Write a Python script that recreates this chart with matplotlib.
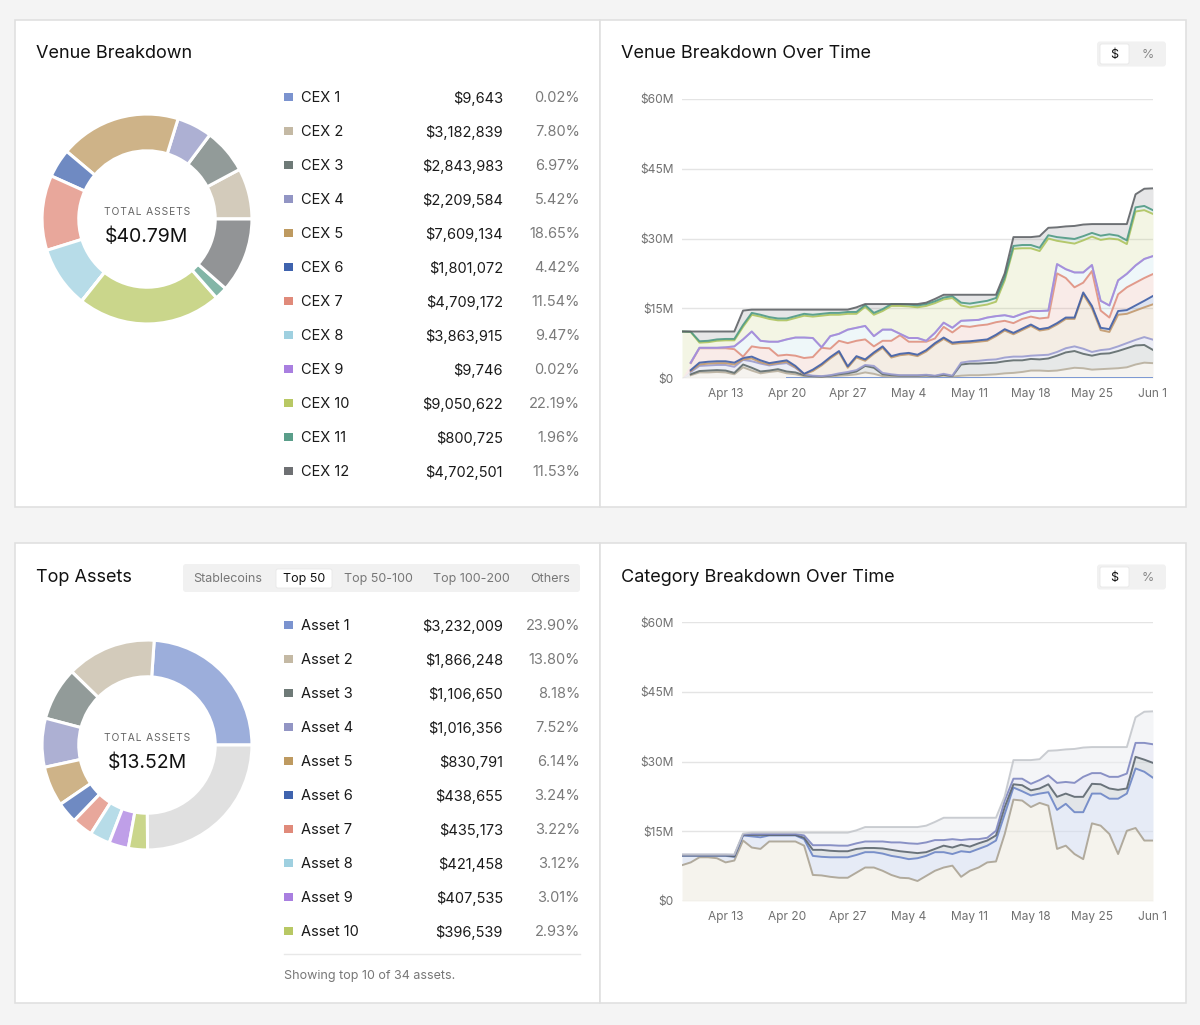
import numpy as np
import matplotlib.pyplot as plt
from matplotlib.patches import Rectangle, FancyBboxPatch
from matplotlib.colors import to_rgb

plt.rcParams['font.family'] = ['Inter', 'DejaVu Sans']

W, H = 1200, 1025

# ---------------- data ----------------
venues = ['CEX 1', 'CEX 2', 'CEX 3', 'CEX 4', 'CEX 5', 'CEX 6',
          'CEX 7', 'CEX 8', 'CEX 9', 'CEX 10', 'CEX 11', 'CEX 12']
venue_values = [9643, 3182839, 2843983, 2209584, 7609134, 1801072,
                4709172, 3863915, 9746, 9050622, 800725, 4702501]
venue_pcts = [0.02, 7.80, 6.97, 5.42, 18.65, 4.42, 11.54, 9.47, 0.02, 22.19, 1.96, 11.53]
venue_total = '$40.79M'

assets = ['Asset 1', 'Asset 2', 'Asset 3', 'Asset 4', 'Asset 5',
          'Asset 6', 'Asset 7', 'Asset 8', 'Asset 9', 'Asset 10']
asset_values = [3232009, 1866248, 1106650, 1016356, 830791,
                438655, 435173, 421458, 407535, 396539]
asset_pcts = [23.90, 13.80, 8.18, 7.52, 6.14, 3.24, 3.22, 3.12, 3.01, 2.93]
asset_total_value = 13.52e6
asset_total = '$13.52M'
asset_count = 34

tabs = ['Stablecoins', 'Top 50', 'Top 50-100', 'Top 100-200', 'Others']

palette = ['#7B93CF', '#C4B9A4', '#6E7A77', '#9295C4', '#BE9A60', '#3F63AE',
           '#E08A7A', '#9FD0E0', '#A97FE0', '#B8C864', '#5A9E8A', '#6E7073']

# daily points, Apr 8 .. Jun 1 (values in $M, stack tops)
days = np.arange(np.datetime64('2025-04-08'), np.datetime64('2025-06-02'))

top_cex1 = [0.0] * 12 + [0.01] * 43
top_cex2 = [0, 0.6, 1.2, 1.2, 1.3, 1.2, 0.8, 2.3, 1.6, 1.0,
            1.3, 1.5, 1.0, 0.8, 0.4, 0.3, 0.2, 0.3, 0.5, 0.6,
            0.8, 1.2, 0.9, 0.4, 0.3, 0.3, 0.3, 0.3, 0.4, 0.3,
            0.5, 0.3, 0.5, 0.6, 0.6, 0.7, 0.8, 1.0, 1.1, 1.3,
            1.6, 1.6, 1.5, 1.6, 1.9, 2.2, 2.1, 1.8, 1.9, 2.0,
            2.1, 2.3, 2.9, 3.3, 3.19]
top_cex3 = [0, 0.8, 1.5, 1.6, 1.7, 1.6, 1.1, 2.9, 2.2, 1.4,
            1.6, 1.9, 1.4, 1.2, 0.6, 0.4, 0.3, 0.5, 0.8, 1.0,
            1.4, 2.6, 2.2, 0.8, 0.6, 0.5, 0.5, 0.5, 0.6, 0.4,
            0.7, 0.4, 2.9, 3.1, 3.1, 3.2, 3.3, 3.6, 3.8, 3.8,
            4.1, 4.0, 4.2, 4.8, 5.5, 5.8, 5.2, 4.8, 5.2, 5.3,
            5.8, 6.4, 7.0, 7.1, 6.03]
top_cex4 = [0, 1.3, 2.6, 2.7, 2.8, 2.8, 2.4, 3.9, 3.6, 3.1,
            2.7, 3.0, 3.2, 2.2, 0.8, 0.5, 0.4, 0.6, 1.0, 1.3,
            1.7, 2.8, 2.6, 1.1, 0.8, 0.6, 0.6, 0.6, 0.7, 0.5,
            0.9, 0.5, 3.3, 3.6, 3.7, 3.9, 4.0, 4.4, 4.6, 4.6,
            4.8, 4.9, 5.0, 5.6, 6.4, 6.8, 6.3, 5.6, 6.0, 6.2,
            6.8, 7.5, 8.2, 8.8, 8.24]
top_cex5 = [0, 1.5, 2.9, 3.1, 3.2, 3.2, 2.9, 4.0, 4.2, 3.4,
            2.9, 3.2, 3.5, 2.3, 0.8, 1.5, 2.7, 4.2, 5.5, 2.2,
            4.4, 3.7, 5.2, 6.5, 4.4, 4.9, 5.1, 4.7, 5.7, 7.2,
            8.4, 7.3, 7.5, 7.6, 7.8, 8.0, 9.0, 10.2, 9.4, 10.3,
            11.2, 10.2, 10.5, 11.5, 12.7, 12.7, 18.0, 15.0, 10.3, 9.9,
            13.6, 13.8, 14.5, 15.2, 15.85]
top_cex6 = [0, 1.7, 3.3, 3.5, 3.6, 3.6, 3.3, 4.3, 4.6, 3.8,
            3.2, 3.5, 3.8, 2.6, 0.9, 1.8, 3.0, 4.5, 5.8, 2.5,
            4.7, 4.0, 5.5, 6.8, 4.7, 5.2, 5.4, 5.0, 6.0, 7.5,
            8.7, 7.6, 7.8, 7.9, 8.1, 8.3, 9.3, 10.5, 9.7, 10.6,
            11.5, 10.5, 10.8, 11.8, 13.0, 13.0, 18.4, 15.5, 10.8, 10.5,
            14.4, 14.6, 15.6, 16.6, 17.65]
top_cex7 = [0, 3.2, 6.4, 6.4, 6.4, 6.4, 6.2, 4.6, 6.8, 6.5,
            6.4, 4.8, 5.0, 4.8, 4.3, 4.5, 6.5, 6.3, 8.0, 7.5,
            8.0, 8.3, 6.8, 8.0, 8.0, 9.2, 7.8, 7.8, 7.8, 8.5,
            11.0, 9.8, 11.2, 11.0, 11.3, 11.5, 12.0, 12.3, 11.8, 12.7,
            13.2, 12.8, 13.0, 22.5, 21.5, 19.5, 20.5, 23.0, 14.5, 13.0,
            18.0, 19.5, 20.5, 21.5, 22.36]
top_cex8 = [0, 3.3, 6.5, 6.5, 6.5, 6.6, 6.8, 8.3, 10.0, 8.0,
            7.8, 7.8, 8.3, 8.7, 8.7, 8.6, 6.6, 9.0, 9.5, 10.4,
            10.8, 11.2, 9.0, 10.4, 10.4, 9.5, 8.6, 8.6, 8.0, 9.7,
            11.9, 10.8, 12.3, 12.4, 12.5, 13.0, 13.3, 13.5, 13.1, 13.8,
            14.4, 14.4, 14.5, 24.5, 23.4, 22.7, 22.7, 24.3, 16.6, 15.6,
            21.0, 22.4, 24.2, 25.6, 26.22]
top_cex9 = top_cex8  # CEX 9 adds only ~$10k
top_cex10 = [10.0, 9.9, 7.6, 7.7, 8.0, 8.1, 8.1, 11.0, 13.6, 13.2,
             12.7, 12.4, 12.4, 12.9, 13.4, 13.2, 13.4, 13.6, 13.6, 13.8,
             13.8, 15.3, 13.6, 14.4, 15.5, 15.5, 15.4, 15.2, 15.5, 16.1,
             16.9, 17.2, 15.6, 15.2, 15.5, 15.8, 16.4, 21.0, 27.8, 27.9,
             27.9, 27.3, 30.0, 29.5, 29.2, 28.9, 29.6, 30.4, 29.7, 30.0,
             29.8, 28.8, 35.8, 36.1, 35.28]
top_cex11 = [10.0, 9.95, 7.9, 8.0, 8.3, 8.4, 8.4, 11.4, 14.0, 13.6,
             13.1, 12.8, 12.8, 13.3, 13.8, 13.6, 13.8, 14.0, 14.0, 14.2,
             14.2, 15.7, 14.0, 14.8, 15.9, 15.9, 15.8, 15.6, 15.9, 16.5,
             17.3, 17.6, 16.2, 16.0, 16.3, 16.6, 17.2, 21.6, 28.4, 28.6,
             28.6, 28.0, 30.7, 30.3, 30.1, 29.9, 30.5, 31.2, 30.6, 30.9,
             30.6, 29.6, 36.7, 37.0, 36.08]
total_assets = [10.0, 10.0, 10.0, 10.0, 10.0, 10.0, 10.0, 14.5, 14.7, 14.7,
                14.7, 14.7, 14.7, 14.7, 14.7, 14.7, 14.7, 14.7, 14.7, 14.7,
                15.2, 15.9, 15.9, 15.9, 15.9, 15.9, 15.9, 15.9, 16.2, 17.0,
                17.9, 17.9, 17.9, 17.9, 17.9, 17.9, 17.9, 22.5, 30.3, 30.3,
                30.3, 30.5, 32.3, 32.4, 32.6, 32.7, 33.0, 33.1, 33.1, 33.1,
                33.1, 33.1, 39.5, 40.7, 40.79]
top_cex12 = total_assets

# category stack tops ($M)
top_cat1 = [7.7, 8.3, 9.4, 9.4, 9.2, 8.3, 8.7, 13.0, 11.5, 11.2,
            12.8, 12.8, 12.8, 12.8, 11.9, 5.6, 5.5, 5.2, 5.0, 5.0,
            6.1, 7.2, 7.2, 6.5, 5.6, 5.0, 4.9, 4.3, 5.4, 6.5,
            7.2, 7.6, 5.2, 6.5, 7.2, 8.3, 8.5, 14.4, 21.8, 21.6,
            20.2, 21.1, 20.5, 11.2, 11.9, 10.1, 9.0, 16.7, 16.2, 14.4,
            10.1, 15.1, 15.7, 13.0, 13.0]
top_cat2 = [9.7, 9.7, 9.7, 9.7, 9.7, 9.7, 9.5, 14.1, 13.9, 13.7,
            14.1, 14.1, 14.1, 14.1, 13.3, 9.7, 9.5, 9.4, 9.4, 9.4,
            9.9, 10.5, 10.5, 10.2, 9.7, 9.4, 9.0, 9.2, 9.7, 10.5,
            10.5, 10.1, 10.7, 10.5, 11.2, 11.9, 13.0, 18.7, 24.4, 23.6,
            22.7, 23.1, 23.4, 19.6, 20.9, 19.1, 19.1, 23.1, 23.1, 22.0,
            22.0, 23.1, 28.5, 27.8, 26.5]
top_cat3 = [9.8, 9.8, 9.8, 9.8, 9.8, 9.8, 9.6, 14.2, 14.2, 14.2,
            14.2, 14.2, 14.2, 14.2, 13.6, 11.0, 11.0, 10.8, 10.7, 10.7,
            11.2, 11.4, 11.4, 11.3, 11.0, 10.7, 10.5, 10.3, 10.5, 11.2,
            11.9, 11.5, 12.1, 11.7, 12.4, 13.0, 14.1, 20.2, 25.1, 24.9,
            23.8, 24.2, 25.1, 22.4, 23.1, 22.4, 22.4, 25.2, 25.1, 24.2,
            23.9, 24.2, 31.0, 30.4, 29.7]
top_cat4 = [9.95, 9.95, 9.95, 9.95, 9.95, 9.95, 9.9, 14.3, 14.4, 14.4,
            14.4, 14.4, 14.4, 14.4, 14.1, 12.0, 12.0, 12.0, 11.9, 11.9,
            12.4, 12.8, 12.8, 12.8, 12.6, 12.6, 12.4, 12.3, 12.6, 13.1,
            13.1, 13.3, 13.1, 13.3, 13.3, 13.6, 15.1, 21.6, 26.3, 26.3,
            25.2, 26.0, 27.0, 25.4, 25.6, 25.4, 26.7, 27.5, 27.5, 26.7,
            26.7, 27.4, 34.0, 34.0, 33.7]
top_cat5 = total_assets

cat_lines = ['#ABA393', '#6D86C6', '#5C666E', '#7E86C0', '#C4C7CC']
cat_fills = ['#EDEADF', '#D3DCF0', '#CBD1D6', '#DDDFEF', '#ECEEF1']

venue_lines = ['#6F8FD0', '#B9B09E', '#5F6B6B', '#9A9CD0', '#C49A6C', '#3F5FA8',
               '#E0907F', '#9FD0E0', '#A987DB', '#AFC45E', '#4F9A85', '#5E6266']


def tint(c, f):
    r, g, b = to_rgb(c)
    return (1 - f + f * r, 1 - f + f * g, 1 - f + f * b)


fig = plt.figure(figsize=(W / 100, H / 100), dpi=100, facecolor='#F4F4F4')
bg = fig.add_axes([0, 0, 1, 1])
bg.set_xlim(0, W)
bg.set_ylim(H, 0)
bg.axis('off')

# cards
for x0, y0, w, h in [(15, 20, 585, 487), (600, 20, 586, 487),
                     (15, 543, 585, 460), (600, 543, 586, 460)]:
    bg.add_patch(Rectangle((x0, y0), w, h, fc='white', ec='#E0E0E0', lw=1.2))

title_kw = dict(fontsize=13, color='#111111', va='center', ha='left')
bg.text(36, 54, 'Venue Breakdown', **title_kw)
bg.text(621, 54, 'Venue Breakdown Over Time', **title_kw)
bg.text(36, 577, 'Top Assets', **title_kw)
bg.text(621, 577, 'Category Breakdown Over Time', **title_kw)


def toggle(yc):
    bg.add_patch(FancyBboxPatch((1097, yc - 12.5), 69, 25, boxstyle='round,pad=0,rounding_size=3',
                                fc='#F1F1F1', ec='none'))
    bg.add_patch(FancyBboxPatch((1100, yc - 10), 29, 20, boxstyle='round,pad=0,rounding_size=2',
                                fc='white', ec='#E8E8E8', lw=0.6))
    bg.text(1114.5, yc + 1, '$', fontsize=9, color='#111', ha='center', va='center')
    bg.text(1148, yc + 1, '%', fontsize=9, color='#888', ha='center', va='center')


toggle(54)
toggle(577)

# tabs
bg.add_patch(FancyBboxPatch((183, 564), 397, 28, boxstyle='round,pad=0,rounding_size=3',
                            fc='#F1F1F1', ec='none'))
bg.add_patch(FancyBboxPatch((276, 569), 56, 19, boxstyle='round,pad=0,rounding_size=2',
                            fc='white', ec='#E8E8E8', lw=0.6))
for name, xc in zip(tabs, [228, 304, 378, 471, 550]):
    bg.text(xc, 579, name, fontsize=9, ha='center', va='center',
            color='#111' if name == 'Top 50' else '#777')


def donut(cx, cy, vals, colors, total_txt):
    r = 106
    ax = fig.add_axes([(cx - r) / W, 1 - (cy + r) / H, 2 * r / W, 2 * r / H])
    ax.pie(vals, colors=colors, startangle=0, counterclock=True, radius=1,
           wedgeprops=dict(width=0.35, edgecolor='white', linewidth=2.2))
    ax.set_xlim(-1.01, 1.01)
    ax.set_ylim(-1.01, 1.01)
    ax.set_aspect('equal')
    ax.axis('off')
    bg.text(cx, cy - 7, '\u200a'.join('TOTAL ASSETS'), fontsize=7.4, color='#666',
            ha='center', va='center')
    bg.text(cx, cy + 18, total_txt, fontsize=14, color='#111', ha='center', va='center')


def legend_rows(y0, names, values, pcts):
    for i, (n, v, p) in enumerate(zip(names, values, pcts)):
        y = y0 + 34 * i
        bg.add_patch(Rectangle((284, y - 4.5), 8.5, 8.5, fc=palette[i], ec='none'))
        bg.text(301, y + 1, n, fontsize=10.5, color='#1A1A1A', ha='left', va='center')
        bg.text(503, y + 1, f'${v:,}', fontsize=10.5, color='#1A1A1A', ha='right', va='center')
        bg.text(580, y + 1, f'{p:.2f}%', fontsize=10.5, color='#7A7A7A', ha='right', va='center')


donut(147, 219, venue_values, [tint(c, 0.75) for c in palette], venue_total)
legend_rows(97, venues, venue_values, venue_pcts)

others_value = asset_total_value - sum(asset_values)
donut(147, 745, asset_values + [others_value],
      [tint(c, 0.75) for c in palette[:10]] + ['#E0E0E0'], asset_total)
legend_rows(625, assets, asset_values, asset_pcts)
bg.plot([284, 580], [954, 954], color='#E8E8E8', lw=1)
bg.text(284, 976, f'Showing top 10 of {asset_count} assets.', fontsize=9, color='#777',
        ha='left', va='center')


def area_axes(y_top, y_bot):
    ax = fig.add_axes([682 / W, 1 - y_bot / H, (1153 - 682) / W, (y_bot - y_top) / H])
    ax.set_facecolor('none')
    ax.set_xlim(days[0], days[-1])
    ax.set_ylim(0, 60)
    ax.set_yticks([0, 15, 30, 45, 60])
    ax.set_yticklabels(['$0', '$15M', '$30M', '$45M', '$60M'])
    ticks = np.arange(np.datetime64('2025-04-13'), np.datetime64('2025-06-02'), 7)
    ax.set_xticks(ticks)
    ax.set_xticklabels([f'{t.astype(object):%b} {t.astype(object).day}' for t in ticks])
    ax.tick_params(length=0, labelsize=8.6, colors='#707070')
    ax.tick_params(axis='y', pad=6)
    ax.tick_params(axis='x', pad=7)
    for s in ax.spines.values():
        s.set_visible(False)
    ax.yaxis.grid(True, color='#E4E4E4', lw=1)
    ax.set_axisbelow(True)
    return ax


def stacked(ax, tops, lines, fills, alpha):
    lower = np.zeros(len(days))
    for top, fc in zip(tops, fills):
        top = np.asarray(top, dtype=float)
        ax.fill_between(days, lower, top, color=fc, alpha=alpha, lw=0)
        lower = top
    for top, lc in zip(tops, lines):
        top = np.asarray(top, dtype=float)
        ax.plot(days, np.where(top > 0, top, np.nan), color=lc, lw=1.4, alpha=0.9,
                solid_joinstyle='round')


ax1 = area_axes(99, 378)
venue_tops = [top_cex1, top_cex2, top_cex3, top_cex4, top_cex5, top_cex6,
              top_cex7, top_cex8, top_cex9, top_cex10, top_cex11, top_cex12]
stacked(ax1, venue_tops, venue_lines, palette, 0.17)

ax2 = area_axes(622, 901)
cat_tops = [top_cat1, top_cat2, top_cat3, top_cat4, top_cat5]
stacked(ax2, cat_tops, cat_lines, cat_fills, 0.55)

fig.savefig('out.png', dpi=100, facecolor=fig.get_facecolor())
